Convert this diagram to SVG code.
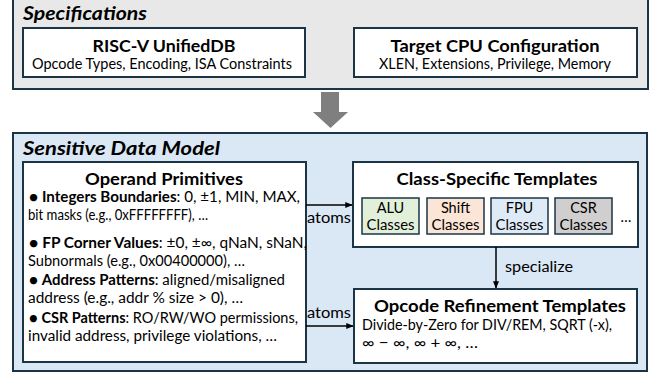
<svg xmlns="http://www.w3.org/2000/svg" width="655" height="375" viewBox="0 0 655 375">
<style>
text{font-family:Lato,"Noto Sans","DejaVu Sans",sans-serif;fill:#000}
.panel{stroke:#1b3446;stroke-width:2}
.box{fill:#fff;stroke:#1b3446;stroke-width:2}
.ptitle{font-size:18.5px;font-weight:bold;font-style:italic}
.btitle{font-size:17px;font-weight:bold;text-anchor:middle}
.body{font-size:14.5px}
.mid{text-anchor:middle}
.cls{stroke:#1b3446;stroke-width:1.5}
.conn{stroke:#000;stroke-width:1.5;fill:none}
</style>
<defs>
<marker id="ah" viewBox="0 0 10 10" refX="9" refY="5" markerWidth="5" markerHeight="5" orient="auto" markerUnits="strokeWidth">
<path d="M0,1 L10,5 L0,9 z" fill="#000"/>
</marker>
</defs>

<g id="specifications">
<rect class="panel" x="13" y="-2" width="635" height="91" fill="#e8e8e8"/>
<text class="ptitle" x="23" y="20" textLength="124" lengthAdjust="spacingAndGlyphs">Specifications</text>
</g>
<g id="riscv-unifieddb">
<rect class="box" x="23" y="28" width="282" height="49"/>
<text class="btitle" x="164" y="52" textLength="143" lengthAdjust="spacingAndGlyphs">RISC-V UnifiedDB</text>
<text class="body mid" x="162" y="69" textLength="260" lengthAdjust="spacingAndGlyphs">Opcode Types, Encoding, ISA Constraints</text>
</g>
<g id="target-cpu">
<rect class="box" x="354" y="28" width="283" height="49"/>
<text class="btitle" x="495" y="52" textLength="209" lengthAdjust="spacingAndGlyphs">Target CPU Configuration</text>
<text class="body mid" x="495" y="69" textLength="232" lengthAdjust="spacingAndGlyphs">XLEN, Extensions, Privilege, Memory</text>
</g>

<g id="flow-arrow">
<path d="M321,92 H339 V112 H348 L330.5,128 L313,112 H321 Z" fill="#7f7f7f"/>
</g>

<g id="sensitive-data-model">
<rect class="panel" x="13" y="133" width="634" height="238" fill="#dae7f5"/>
<text class="ptitle" x="23" y="155" textLength="197" lengthAdjust="spacingAndGlyphs">Sensitive Data Model</text>
</g>

<g id="operand-primitives">
<rect class="box" x="23" y="162" width="283" height="200"/>
<text class="btitle" x="164" y="185" textLength="158" lengthAdjust="spacingAndGlyphs">Operand Primitives</text>
<text class="body" x="29" y="202" textLength="271" lengthAdjust="spacingAndGlyphs">● <tspan font-weight="bold">Integers Boundaries</tspan>: 0, ±1, MIN, MAX,</text>
<text class="body" x="28" y="220" textLength="180" lengthAdjust="spacingAndGlyphs">bit masks (e.g., 0xFFFFFFFF), …</text>
<text class="body" x="29" y="248" textLength="278" lengthAdjust="spacingAndGlyphs">● <tspan font-weight="bold">FP Corner Values</tspan>: ±0, ±∞, qNaN, sNaN,</text>
<text class="body" x="28" y="266" textLength="217" lengthAdjust="spacingAndGlyphs">Subnormals (e.g., 0x00400000), …</text>
<text class="body" x="29" y="285" textLength="256" lengthAdjust="spacingAndGlyphs">● <tspan font-weight="bold">Address Patterns</tspan>: aligned/misaligned</text>
<text class="body" x="28" y="303" textLength="215" lengthAdjust="spacingAndGlyphs">address (e.g., addr % size &gt; 0), …</text>
<text class="body" x="29" y="323" textLength="269" lengthAdjust="spacingAndGlyphs">● <tspan font-weight="bold">CSR Patterns</tspan>: RO/RW/WO permissions,</text>
<text class="body" x="28" y="341" textLength="249" lengthAdjust="spacingAndGlyphs">invalid address, privilege violations, …</text>
</g>

<g id="class-specific-templates">
<rect class="box" x="353" y="162" width="285" height="85"/>
<text class="btitle" x="497" y="185" textLength="201" lengthAdjust="spacingAndGlyphs">Class-Specific Templates</text>
</g>
<g id="alu-classes">
<rect class="cls" x="362" y="198" width="57" height="36" fill="#e2f0d9"/>
<text class="body mid" x="390.5" y="213">ALU</text>
<text class="body mid" x="390.5" y="230" textLength="48" lengthAdjust="spacingAndGlyphs">Classes</text>
</g>
<g id="shift-classes">
<rect class="cls" x="427" y="198" width="57" height="36" fill="#fbe5d6"/>
<text class="body mid" x="455.5" y="213">Shift</text>
<text class="body mid" x="455.5" y="230" textLength="48" lengthAdjust="spacingAndGlyphs">Classes</text>
</g>
<g id="fpu-classes">
<rect class="cls" x="491" y="198" width="57" height="36" fill="#deebf7"/>
<text class="body mid" x="519.5" y="213">FPU</text>
<text class="body mid" x="519.5" y="230" textLength="48" lengthAdjust="spacingAndGlyphs">Classes</text>
</g>
<g id="csr-classes">
<rect class="cls" x="555" y="198" width="57" height="36" fill="#d0cece"/>
<text class="body mid" x="583.5" y="213">CSR</text>
<text class="body mid" x="583.5" y="230" textLength="48" lengthAdjust="spacingAndGlyphs">Classes</text>
</g>
<g id="ellipsis">
<text class="body mid" x="626" y="222">…</text>
</g>

<g id="opcode-refinement-templates">
<rect class="box" x="354" y="289" width="283" height="74"/>
<text class="btitle" x="500" y="312" textLength="252" lengthAdjust="spacingAndGlyphs">Opcode Refinement Templates</text>
<text class="body" x="362" y="330" textLength="250" lengthAdjust="spacingAndGlyphs">Divide-by-Zero for DIV/REM, SQRT (-x),</text>
<text class="body" x="362" y="348" textLength="116" lengthAdjust="spacingAndGlyphs">∞ − ∞, ∞ + ∞, …</text>
</g>

<g id="connectors">
<line class="conn" x1="306" y1="205" x2="352" y2="205" marker-end="url(#ah)"/>
<text class="body" x="307" y="223" textLength="44" lengthAdjust="spacingAndGlyphs">atoms</text>
<line class="conn" x1="306" y1="326" x2="353" y2="326" marker-end="url(#ah)"/>
<text class="body" x="307" y="318" textLength="44" lengthAdjust="spacingAndGlyphs">atoms</text>
<line class="conn" x1="496" y1="247" x2="496" y2="288" marker-end="url(#ah)"/>
<text class="body" x="505" y="272" textLength="68" lengthAdjust="spacingAndGlyphs">specialize</text>
</g>
</svg>
